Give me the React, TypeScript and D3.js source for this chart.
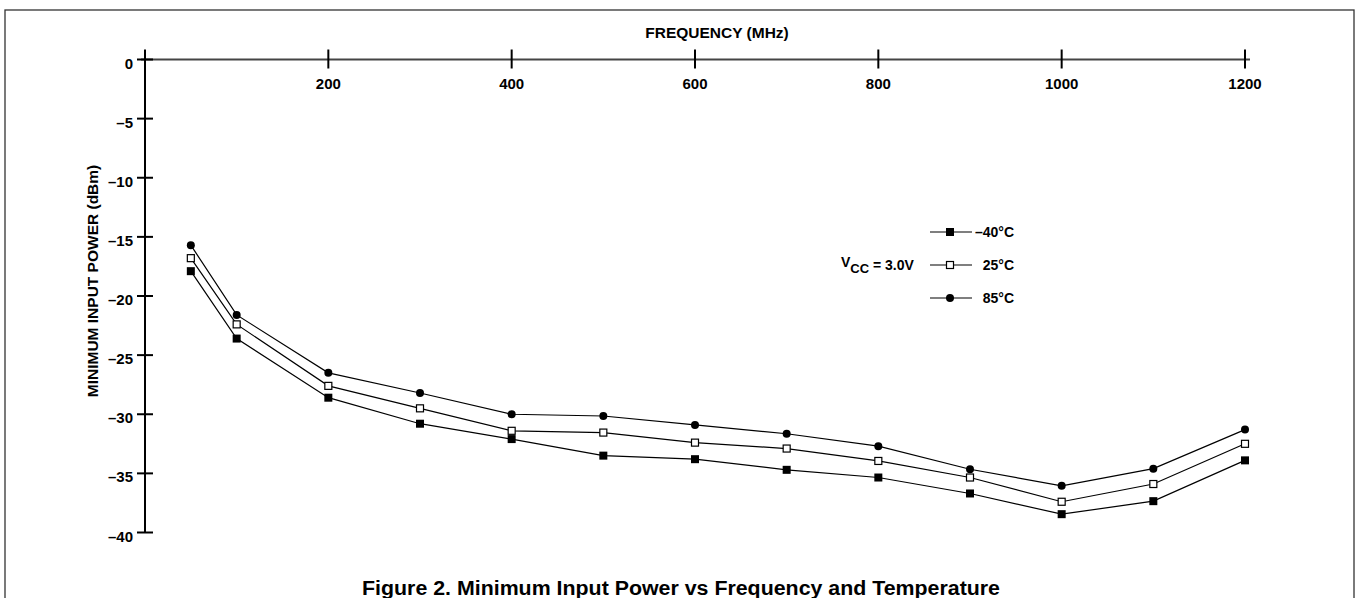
import * as d3 from 'd3';

const FREQS = [50, 100, 200, 300, 400, 500, 600, 700, 800, 900, 1000, 1100, 1200];
const T_MINUS40 = [-17.9, -23.6, -28.6, -30.8, -32.1, -33.5, -33.8, -34.7, -35.35, -36.7, -38.45, -37.35, -33.9];
const T_25 = [-16.8, -22.4, -27.6, -29.5, -31.4, -31.55, -32.4, -32.9, -33.95, -35.35, -37.4, -35.9, -32.5];
const T_85 = [-15.7, -21.6, -26.5, -28.2, -30.0, -30.15, -30.9, -31.65, -32.7, -34.65, -36.05, -34.6, -31.3];

const X_TICKS = [0, 200, 400, 600, 800, 1000, 1200];
const Y_TICKS = [0, -5, -10, -15, -20, -25, -30, -35, -40];

const SERIES = [
  { label: '\u201340\u00b0C', values: T_MINUS40, marker: 'filledSquare' },
  { label: '25\u00b0C', values: T_25, marker: 'openSquare' },
  { label: '85\u00b0C', values: T_85, marker: 'circle' },
];

const W = 1358;
const H = 598;
const FONT = '"Liberation Sans", Arial, Helvetica, sans-serif';

function Marker({ kind, cx, cy }: { kind: string; cx: number; cy: number }) {
  if (kind === 'circle') return <circle cx={cx} cy={cy} r={4} fill="#000" />;
  if (kind === 'openSquare')
    return <rect x={cx - 3.5} y={cy - 3.5} width={7} height={7} fill="#fff" stroke="#000" strokeWidth={1.2} />;
  return <rect x={cx - 4} y={cy - 4} width={8} height={8} fill="#000" />;
}

export default function App() {
  const x = d3.scaleLinear().domain([0, 1200]).range([145, 1245]);
  const y = d3.scaleLinear().domain([0, -40]).range([59.5, 532.5]);

  const line = d3.line<[number, number]>()
    .x(d => x(d[0]))
    .y(d => y(d[1]));

  const legendRows = [232, 265, 298];

  return (
    <svg
      width={W}
      height={H}
      style={{ position: 'absolute', left: 0, top: 0, background: '#fff', fontFamily: FONT }}
    >
      <rect x={5} y={10} width={1349} height={620} fill="none" stroke="#333" strokeWidth={1.3} />

      {/* x axis on top */}
      <line x1={x(0) - 4} x2={x(1200) + 5} y1={y(0)} y2={y(0)} stroke="#444" strokeWidth={2} />
      {X_TICKS.map(t => (
        <g key={t}>
          <line x1={x(t)} x2={x(t)} y1={y(0) - 10} y2={y(0) + 9} stroke="#000" strokeWidth={2} />
          {t !== 0 && (
            <text x={x(t)} y={89} textAnchor="middle" fontSize={15} fontWeight="bold">{t}</text>
          )}
        </g>
      ))}
      <text x={717} y={38} textAnchor="middle" fontSize={15.5} fontWeight="bold">FREQUENCY (MHz)</text>

      {/* y axis */}
      <line x1={x(0)} x2={x(0)} y1={y(0)} y2={y(-40)} stroke="#000" strokeWidth={2} />
      {Y_TICKS.map(t => (
        <g key={t}>
          <line x1={x(0) - 8} x2={x(0) + 8} y1={y(t)} y2={y(t)} stroke="#000" strokeWidth={2} />
          <text x={133} y={y(t) + 9} textAnchor="end" fontSize={15} fontWeight="bold">
            {t === 0 ? '0' : `\u2013${Math.abs(t)}`}
          </text>
        </g>
      ))}
      <text
        transform="translate(98,281) rotate(-90)"
        textAnchor="middle"
        fontSize={15.5}
        fontWeight="bold"
      >
        MINIMUM INPUT POWER (dBm)
      </text>

      {/* series */}
      {SERIES.map(s => {
        const pts = FREQS.map((f, i) => [f, s.values[i]] as [number, number]);
        return (
          <g key={s.label}>
            <path d={line(pts) || ''} fill="none" stroke="#000" strokeWidth={1.2} />
            {pts.map(p => (
              <Marker key={p[0]} kind={s.marker} cx={x(p[0])} cy={y(p[1])} />
            ))}
          </g>
        );
      })}

      {/* legend */}
      {SERIES.map((s, i) => (
        <g key={s.label}>
          <line x1={930} x2={972} y1={legendRows[i]} y2={legendRows[i]} stroke="#000" strokeWidth={1.2} />
          <Marker kind={s.marker} cx={950} cy={legendRows[i]} />
          <text x={1014} y={legendRows[i] + 5} textAnchor="end" fontSize={14} fontWeight="bold">{s.label}</text>
        </g>
      ))}
      <text x={841} y={270} fontSize={14} fontWeight="bold">
        <tspan dy={-3}>V</tspan>
        <tspan fontSize={13} dy={6}>CC</tspan>
        <tspan dy={-3}> = 3.0V</tspan>
      </text>

      <text x={362} y={595} fontSize={19.5} fontWeight="bold" textLength={638} lengthAdjust="spacingAndGlyphs">
        Figure 2.  Minimum Input Power vs Frequency and Temperature
      </text>
    </svg>
  );
}
